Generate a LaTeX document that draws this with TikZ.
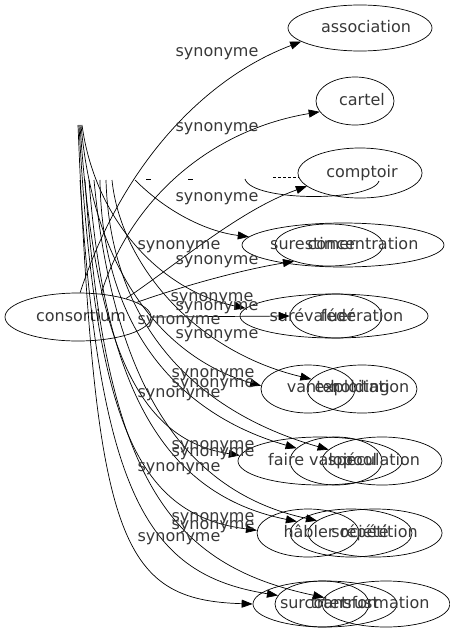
\documentclass[tikz,border=0pt]{standalone}
\usepackage{fontspec}
\setmainfont{DejaVu Sans}
\usetikzlibrary{shapes.geometric,arrows.meta}
\tikzset{
  ell/.style={draw, ellipse, inner sep=0pt, line width=0.7pt},
  word/.style={font=\fontsize{16}{16}\selectfont, text=black!78, inner sep=0pt, text height=11.5pt, text depth=3.5pt},
  syn/.style={word},
  link/.style={draw, line width=0.7pt, -{Triangle[length=11pt,width=8pt]}},
  bare/.style={draw, line width=0.7pt}
}
\begin{document}
\begin{tikzpicture}[x=1pt,y=-1pt]
\useasboundingbox (0,0) rectangle (450,635);
% ellipses
\node[ell, minimum width=146pt, minimum height=48pt] (cons) at (78,317) {};
\node[ell, minimum width=144pt, minimum height=46pt] (e1) at (360,28) {};
\node[ell, minimum width=78pt, minimum height=48pt] (e2) at (355,101) {};
\node[ell, minimum width=124pt, minimum height=50pt] (e3) at (360,173) {};
\node[ell, minimum width=202pt, minimum height=44pt] (e4a) at (343,245) {};
\node[ell, minimum width=108pt, minimum height=42pt] (e4b) at (329,245) {};
\node[ell, minimum width=188pt, minimum height=44pt] (e5a) at (334,316) {};
\node[ell, minimum width=92pt, minimum height=44pt] (e5b) at (336,316) {};
\node[ell, minimum width=94pt, minimum height=48pt] (e6a) at (308,389) {};
\node[ell, minimum width=110pt, minimum height=48pt] (e6b) at (362,389) {};
\node[ell, minimum width=164pt, minimum height=48pt] (e7a) at (320,461) {};
\node[ell, minimum width=92pt, minimum height=48pt] (e7b) at (336,461) {};
\node[ell, minimum width=120pt, minimum height=48pt] (e7c) at (382,461) {};
\node[ell, minimum width=102pt, minimum height=48pt] (e8a) at (308,533) {};
\node[ell, minimum width=122pt, minimum height=48pt] (e8b) at (351,533) {};
\node[ell, minimum width=134pt, minimum height=48pt] (e8c) at (375,533) {};
\node[ell, minimum width=144pt, minimum height=46pt] (e9a) at (325,604) {};
\node[ell, minimum width=94pt, minimum height=46pt] (e9b) at (322,604) {};
\node[ell, minimum width=128pt, minimum height=46pt] (e9c) at (386,604) {};
% partial ellipse and text remnants behind comptoir
\coordinate (pl) at (245,179);
\coordinate (pr) at (379,181);
\draw[bare] (pl) .. controls (252,202) and (372,202) .. (pr);
\coordinate (d1) at (273,177);
\coordinate (d2) at (299,177);
\draw[line width=0.6pt, dash pattern=on 3pt off 2pt] (d1) -- (d2);
\coordinate (d3) at (146,179);
\coordinate (d4) at (151,179);
\coordinate (d5) at (188,179);
\coordinate (d6) at (193,179);
\draw[line width=0.6pt] (d3) -- (d4) (d5) -- (d6);
% words
\node[word] (tcons) at (81,317) {consortium};
\node[word] (t1) at (366,28) {association};
\node[word] (t2) at (362,101) {cartel};
\node[word] (t3) at (362,173) {comptoir};
\node[word] (t4a) at (313,245) {surestimer};
\node[word] (t4b) at (363,245) {concentration};
\node[word] (t5a) at (312,317) {surévaluer};
\node[word] (t5b) at (362,317) {fédération};
\node[word] (t6a) at (313,388) {vanter};
\node[word] (t6b) at (360,388) {holding};
\node[word] (t6c) at (362,388) {exploitation};
\node[word] (t7a) at (311,461) {faire valoir};
\node[word] (t7b) at (360,461) {pool};
\node[word] (t7c) at (374,461) {spéculation};
\node[word] (t8a) at (309,533) {hâbler};
\node[word] (t8b) at (360,533) {société};
\node[word] (t8c) at (379,533) {répétition};
\node[word] (t9a) at (313,604) {surcoter};
\node[word] (t9b) at (360,604) {trust};
\node[word] (t9c) at (370,604) {transformation};
% edges from consortium
\draw[link] (cons.85) .. controls (120,170) and (200,80) .. (e1.193);
\draw[link] (cons.45) .. controls (130,200) and (210,130) .. (e2.197);
\draw[link] (cons.21) .. controls (180,262) and (240,210) .. (e3.194);
\draw[link] (cons.14) .. controls (180,287) and (240,270) .. (e4b.205);
\draw[link] (cons.east) -- (e5b.west);
% bundle starts
\coordinate (T1) at (78,125);
\coordinate (T2) at (79,125);
\coordinate (T3) at (80,125);
\coordinate (T4) at (81,125);
\coordinate (T5) at (82,125);
\coordinate (B0) at (135,180);
\coordinate (B1) at (80,180);
\coordinate (B2) at (85,180);
\coordinate (B3) at (89,180);
\coordinate (B4) at (94,180);
\coordinate (B5) at (100,180);
\coordinate (B6) at (106,180);
\coordinate (B7) at (112,180);
\draw[link] (T1) .. controls (95,541) and (120,600) .. (e9a.180);
\draw[link] (T2) .. controls (95,430) and (140,515) .. (e8a.177);
\draw[link] (T3) .. controls (95,350) and (140,440) .. (e7a.176);
\draw[link] (T4) .. controls (95,280) and (170,360) .. (e6a.176);
\draw[link] (T5) .. controls (95,220) and (160,290) .. (e5a.175);
\draw[link] (B0) .. controls (170,215) and (210,232) .. (e4a.175);
\draw[link] (B1) .. controls (100,500) and (150,575) .. (e9b.169);
\draw[link] (B2) .. controls (105,480) and (170,565) .. (e9c.174);
\draw[link] (B3) .. controls (105,390) and (165,495) .. (e8b.168);
\draw[link] (B4) .. controls (112,370) and (175,490) .. (e8c.168);
\draw[link] (B5) .. controls (102,330) and (180,415) .. (e7b.162);
\draw[link] (B6) .. controls (110,320) and (190,410) .. (e7c.168);
\draw[link] (B7) .. controls (120,260) and (190,350) .. (e6b.169);
% labels
\node[syn] (s1) at (217,52) {synonyme};
\node[syn] (s2) at (217,127) {synonyme};
\node[syn] (s3) at (217,197) {synonyme};
\node[syn] (s4) at (179,245) {synonyme};
\node[syn] (s5) at (217,260) {synonyme};
\node[syn] (s6) at (212,297) {synonyme};
\node[syn] (s7) at (217,306) {synonyme};
\node[syn] (s8) at (179,320) {synonyme};
\node[syn] (s9) at (217,334) {synonyme};
\node[syn] (s10) at (213,373) {synonyme};
\node[syn] (s11) at (213,383) {synonyme};
\node[syn] (s12) at (179,393) {synonyme};
\node[syn] (s13) at (213,445) {synonyme};
\node[syn] (s14) at (213,452) {synonyme};
\node[syn] (s15) at (179,467) {synonyme};
\node[syn] (s16) at (213,517) {synonyme};
\node[syn] (s17) at (213,525) {synonyme};
\node[syn] (s18) at (179,537) {synonyme};
\end{tikzpicture}
\end{document}
